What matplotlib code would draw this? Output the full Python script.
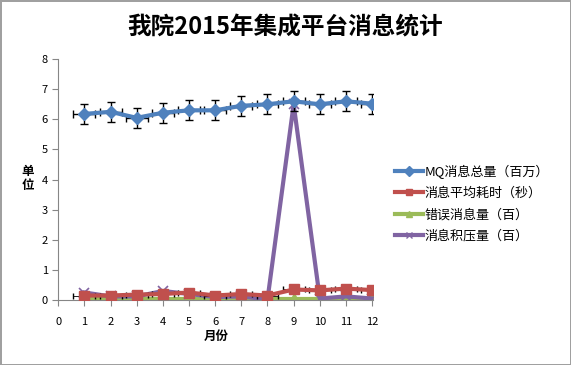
import matplotlib.pyplot as plt
from matplotlib.lines import Line2D
import numpy as np

plt.rcParams['font.family'] = ['Noto Sans CJK SC', 'DejaVu Sans']

# Data
months = np.arange(1, 13)
mq_total = [6.18, 6.25, 6.05, 6.22, 6.30, 6.30, 6.45, 6.50, 6.60, 6.50, 6.60, 6.52]
avg_time = [0.15, 0.15, 0.18, 0.20, 0.25, 0.15, 0.20, 0.15, 0.35, 0.32, 0.38, 0.33]
err_count = [0.02, 0.02, 0.02, 0.02, 0.02, 0.02, 0.02, 0.02, 0.02, 0.02, 0.02, 0.02]
backlog = [0.25, 0.12, 0.12, 0.30, 0.20, 0.10, 0.12, 0.02, 6.50, 0.05, 0.12, 0.05]
labels = ['MQ消息总量（百万）', '消息平均耗时（秒）', '错误消息量（百）', '消息积压量（百）']
colors = ['#4F81BD', '#C0504D', '#9BBB59', '#8064A2']
markers = ['D', 's', '^', 'x']

fig = plt.figure(figsize=(5.71, 3.65), dpi=100)
fig.patch.set_edgecolor('#a0a0a0')
fig.patch.set_linewidth(2)
ax = fig.add_axes([0.102, 0.178, 0.552, 0.66])

ax.errorbar(months, mq_total, yerr=0.33, xerr=0.42, color=colors[0], lw=3,
            marker='D', ms=6, ecolor='black', elinewidth=1, capsize=3, zorder=3)
ax.plot(months, err_count, color=colors[2], lw=3, marker='^', ms=8, zorder=1)
ax.plot(months, backlog, color=colors[3], lw=3, marker='x', ms=7, mew=1.2,
        zorder=2)
ax.errorbar(months, avg_time, xerr=0.42, color=colors[1], lw=3, marker='s', ms=7,
            ecolor='black', elinewidth=0.6, capsize=2, zorder=2.5)

ax.set_xlim(0, 12.05)
ax.set_ylim(0, 8)
ax.set_xticks(range(0, 13))
ax.set_yticks(range(0, 9))
for s in ['top', 'right']:
    ax.spines[s].set_visible(False)
for s in ['left', 'bottom']:
    ax.spines[s].set_color('#868686')
ax.tick_params(colors='#868686', labelcolor='black', labelsize=8, length=4)
ax.tick_params(axis='x', pad=8)

fig.text(0.5, 0.926, '我院2015年集成平台消息统计', ha='center', va='center',
         fontsize=17, fontweight='bold')
fig.text(0.048, 0.51, '单\n位', ha='center', va='center', fontsize=9,
         fontweight='bold', linespacing=1.1)
ax.set_xlabel('月份', fontsize=9, fontweight='bold', labelpad=2)

handles = [Line2D([], [], color=c, lw=3, marker=m, ms=5, mew=1)
           for c, m in zip(colors, markers)]
ax.legend(handles, labels, loc='center left', bbox_to_anchor=(1.03, 0.40),
          frameon=False, fontsize=9.4, handlelength=2.2, handletextpad=0.1,
          labelspacing=0.65)

fig.savefig('out.png', dpi=100)
